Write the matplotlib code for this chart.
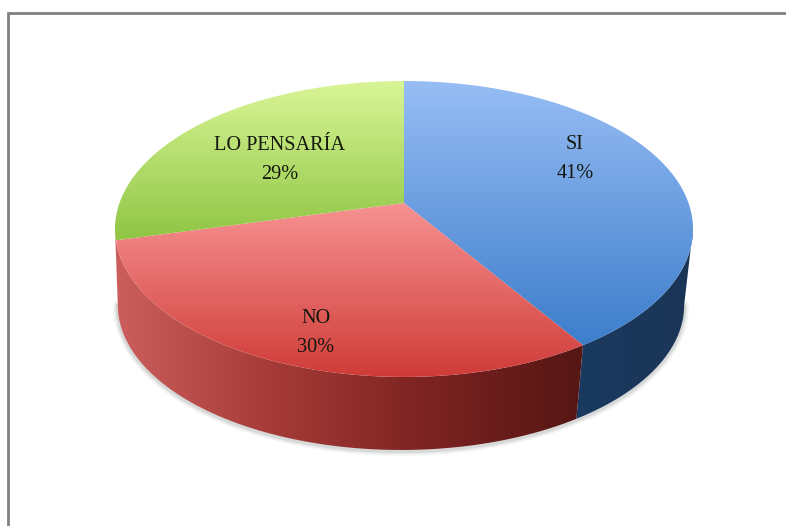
import numpy as np
import matplotlib
matplotlib.use("Agg")
import matplotlib.pyplot as plt
from matplotlib.colors import LinearSegmentedColormap
from matplotlib.patches import Polygon

labels = ["SI", "NO", "LO PENSARÍA"]
values = [41, 30, 29]
top_colors = [["#97bdf4", "#3c7dcb"], ["#f79292", "#cf3b37"], ["#d9f596", "#8fc544"]]
top_ranges = [(81, 346), (203, 378), (81, 240)]
side_colors = [["#1b3a60", "#1a3556"],
               ["#cc5f5d", "#a63b37", "#7c2321", "#551614"]]
label_pos = [(575, 159), (316, 333), (280, 160)]

# perspective of the disc, in pixels
cx, cy = 404, 203
A, B, k = 143.4, 284.5, 0.1756
depth = 76.5
low_scale = 0.98
low_dx = -3


def disc(theta, scale=1.0, dx=0.0, dy=0.0):
    # theta clockwise from the top
    x = np.sin(theta)
    y = np.cos(theta)
    d = 1 + k * y
    return np.column_stack((cx + dx + scale * B * x / d, cy + dy - scale * A * y / d))


def fill_gradient(ax, verts, colors, extent, horizontal=False):
    cmap = LinearSegmentedColormap.from_list("g", colors)
    grad = np.linspace(0, 1, 256)
    grad = grad.reshape(1, -1) if horizontal else grad.reshape(-1, 1)
    poly = Polygon(verts, closed=True, transform=ax.transData, fc="none", ec="none")
    ax.add_patch(poly)
    im = ax.imshow(grad, cmap=cmap, extent=extent, aspect="auto", zorder=poly.get_zorder(),
                   interpolation="bilinear")
    im.set_clip_path(poly)


fig = plt.figure(figsize=(7.86, 5.26), dpi=100)
ax = fig.add_axes([0, 0, 1, 1])
ax.set_xlim(0, 786)
ax.set_ylim(526, 0)
ax.axis("off")

# grey frame: only left and top are in the picture
ax.plot([8, 8, 786], [526, 12.5, 12.5], color="#808080", lw=2, solid_joinstyle="miter")

edges = np.radians(np.cumsum([0] + values) * 3.6)

# soft shadow under the rim
rim = np.linspace(np.radians(100), np.radians(260), 200)
low = disc(rim, low_scale, low_dx, depth)
for w, a in zip([7, 5, 3], [0.05, 0.07, 0.12]):
    ax.plot(low[:, 0], low[:, 1] + 1, color="#505a5a", lw=w, alpha=a, zorder=1,
            solid_capstyle="round")

# side walls, from the widest point on the right to the widest on the left
wall_limits = [(np.radians(100), edges[1]), (edges[1], np.radians(260))]
for i in [0, 1]:
    t = np.linspace(wall_limits[i][0], wall_limits[i][1], 120)
    verts = np.vstack((disc(t), disc(t[::-1], low_scale, low_dx, depth)))
    fill_gradient(ax, verts, side_colors[i], (verts[:, 0].min(), verts[:, 0].max(), 526, 0), True)

# top surface
for i in range(len(values)):
    t = np.linspace(edges[i], edges[i + 1], 200)
    verts = np.vstack(([[cx, cy]], disc(t)))
    y0, y1 = top_ranges[i]
    fill_gradient(ax, verts, top_colors[i], (0, 786, y1, y0))

for name, v, pos in zip(labels, values, label_pos):
    ax.text(pos[0], pos[1], f"{name}\n{v}%", ha="center", va="center", fontsize=14.6,
            family="Liberation Serif", color="#14180f", linespacing=1.72, zorder=5)

ax.set_xlim(0, 786)
ax.set_ylim(526, 0)
fig.savefig("out.png", dpi=100)
